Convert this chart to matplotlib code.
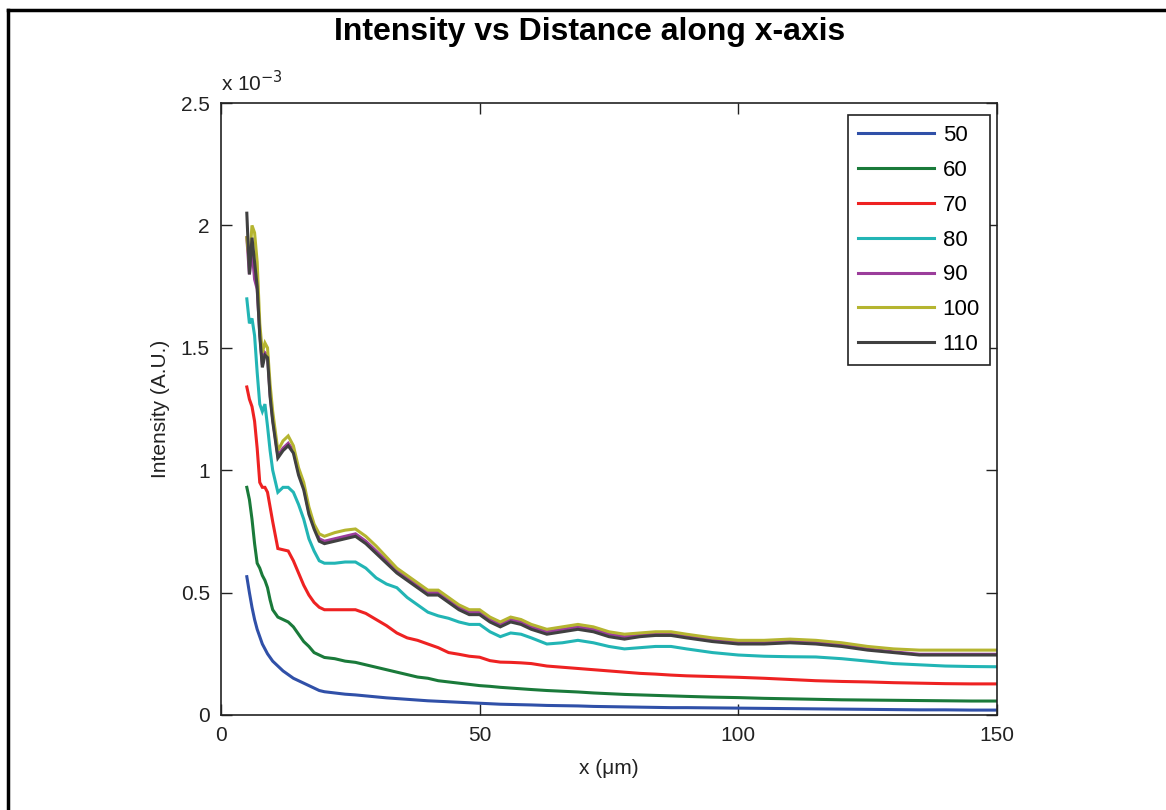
import matplotlib
matplotlib.use("Agg")
import matplotlib.pyplot as plt
from matplotlib.lines import Line2D

# x positions (micrometres)
x_um = [5, 5.5, 6, 6.5, 7, 7.5, 8, 8.5, 9, 9.5, 10, 11, 12, 13, 14, 15, 16, 17, 18, 19, 20,
        22, 24, 26, 28, 30, 32, 34, 36, 38, 40, 42, 44, 46, 48, 50, 52, 54, 56, 58, 60,
        63, 66, 69, 72, 75, 78, 81, 84, 87, 90, 95, 100, 105, 110, 115, 120, 125, 130,
        135, 140, 145, 150]

# intensities in units of 1e-3 (A.U.)
i50 = [0.565, 0.50, 0.44, 0.39, 0.35, 0.32, 0.29, 0.27, 0.25, 0.235, 0.22, 0.20, 0.18, 0.165,
       0.15, 0.14, 0.13, 0.12, 0.11, 0.10, 0.095, 0.09, 0.085, 0.082, 0.078, 0.074, 0.07,
       0.067, 0.064, 0.061, 0.058, 0.056, 0.054, 0.052, 0.05, 0.048, 0.046, 0.044, 0.043,
       0.042, 0.041, 0.039, 0.038, 0.037, 0.035, 0.034, 0.033, 0.032, 0.031, 0.03, 0.03,
       0.029, 0.028, 0.027, 0.026, 0.025, 0.024, 0.023, 0.022, 0.021, 0.021, 0.02, 0.02]
i60 = [0.93, 0.88, 0.80, 0.70, 0.62, 0.60, 0.57, 0.55, 0.52, 0.47, 0.43, 0.40, 0.39, 0.38,
       0.36, 0.33, 0.30, 0.28, 0.255, 0.245, 0.235, 0.23, 0.22, 0.215, 0.205, 0.195, 0.185,
       0.175, 0.165, 0.155, 0.15, 0.14, 0.135, 0.13, 0.125, 0.12, 0.117, 0.113, 0.11, 0.107,
       0.104, 0.10, 0.097, 0.094, 0.09, 0.087, 0.084, 0.082, 0.08, 0.078, 0.076, 0.073,
       0.071, 0.068, 0.066, 0.064, 0.062, 0.061, 0.06, 0.059, 0.058, 0.057, 0.057]
i70 = [1.34, 1.29, 1.26, 1.20, 1.09, 0.95, 0.93, 0.93, 0.91, 0.85, 0.79, 0.68, 0.675, 0.67,
       0.63, 0.58, 0.53, 0.49, 0.46, 0.44, 0.43, 0.43, 0.43, 0.43, 0.415, 0.39, 0.365, 0.335,
       0.315, 0.305, 0.29, 0.275, 0.255, 0.248, 0.24, 0.236, 0.222, 0.216, 0.215, 0.213,
       0.21, 0.20, 0.195, 0.19, 0.185, 0.18, 0.175, 0.17, 0.167, 0.163, 0.16, 0.157, 0.154,
       0.15, 0.145, 0.14, 0.137, 0.135, 0.132, 0.13, 0.128, 0.127, 0.127]
i80 = [1.70, 1.60, 1.62, 1.55, 1.40, 1.27, 1.24, 1.27, 1.18, 1.08, 1.00, 0.91, 0.93, 0.93,
       0.91, 0.86, 0.80, 0.72, 0.67, 0.63, 0.62, 0.62, 0.625, 0.625, 0.60, 0.56, 0.535, 0.52,
       0.48, 0.45, 0.42, 0.405, 0.395, 0.38, 0.37, 0.37, 0.34, 0.32, 0.335, 0.33, 0.315,
       0.29, 0.295, 0.305, 0.295, 0.28, 0.27, 0.275, 0.28, 0.28, 0.27, 0.255, 0.245, 0.24,
       0.238, 0.237, 0.23, 0.22, 0.21, 0.205, 0.20, 0.198, 0.197]
i90 = [1.95, 1.80, 1.90, 1.78, 1.74, 1.56, 1.43, 1.48, 1.47, 1.31, 1.21, 1.06, 1.09, 1.11,
       1.08, 0.99, 0.93, 0.83, 0.77, 0.72, 0.71, 0.72, 0.73, 0.74, 0.71, 0.67, 0.63, 0.59,
       0.56, 0.53, 0.50, 0.50, 0.47, 0.44, 0.42, 0.42, 0.39, 0.37, 0.39, 0.38, 0.36, 0.34,
       0.35, 0.36, 0.35, 0.33, 0.32, 0.328, 0.333, 0.333, 0.323, 0.308, 0.297, 0.297,
       0.302, 0.297, 0.287, 0.27, 0.258, 0.248, 0.248, 0.248, 0.248]
i100 = [1.95, 1.85, 2.00, 1.97, 1.85, 1.60, 1.48, 1.52, 1.50, 1.35, 1.24, 1.08, 1.12, 1.14,
        1.10, 1.01, 0.95, 0.85, 0.78, 0.74, 0.73, 0.745, 0.755, 0.76, 0.73, 0.69, 0.645,
        0.60, 0.57, 0.54, 0.51, 0.51, 0.48, 0.45, 0.43, 0.43, 0.40, 0.38, 0.40, 0.39, 0.37,
        0.35, 0.36, 0.37, 0.36, 0.34, 0.33, 0.335, 0.34, 0.34, 0.33, 0.315, 0.305, 0.305,
        0.31, 0.305, 0.295, 0.28, 0.27, 0.265, 0.265, 0.265, 0.265]
i110 = [2.05, 1.80, 1.95, 1.85, 1.75, 1.55, 1.42, 1.47, 1.46, 1.30, 1.20, 1.05, 1.08, 1.10,
        1.07, 0.98, 0.92, 0.82, 0.76, 0.71, 0.70, 0.71, 0.72, 0.73, 0.70, 0.66, 0.62, 0.58,
        0.55, 0.52, 0.49, 0.49, 0.46, 0.43, 0.41, 0.41, 0.38, 0.36, 0.38, 0.37, 0.35, 0.33,
        0.34, 0.35, 0.34, 0.32, 0.31, 0.32, 0.325, 0.325, 0.315, 0.30, 0.29, 0.29, 0.295,
        0.29, 0.28, 0.265, 0.255, 0.245, 0.245, 0.245, 0.245]

series = [i50, i60, i70, i80, i90, i100, i110]
labels = ["50", "60", "70", "80", "90", "100", "110"]
colors = ["#3050A8", "#1A7A3A", "#EE2222", "#22B5B5", "#9B3D9B", "#B5B530", "#404040"]

xticks = [0, 50, 100, 150]
yticks = [0, 0.5, 1, 1.5, 2, 2.5]
ytick_labels = ["0", "0.5", "1", "1.5", "2", "2.5"]

plt.rcParams['font.family'] = ['Liberation Sans', 'DejaVu Sans']

fig = plt.figure(figsize=(11.66, 8.10), dpi=100)
ax = fig.add_axes([0.1895, 0.1173, 0.6655, 0.7555])

for ys, lab, c in zip(series, labels, colors):
    ax.plot(x_um, ys, color=c, lw=2.2, label=lab, solid_joinstyle='miter')

ax.set_xlim(0, 150)
ax.set_ylim(0, 2.5)
ax.set_xticks(xticks)
ax.set_xticklabels([str(t) for t in xticks])
ax.set_yticks(yticks)
ax.set_yticklabels(ytick_labels)
ax.tick_params(direction='in', length=8, width=1, top=True, right=True,
               labelsize=15, colors='#222222', pad=8)
for s in ax.spines.values():
    s.set_linewidth(1.2)
    s.set_color('#222222')

ax.set_xlabel("x (\u03bcm)", fontsize=15, color='#222222', labelpad=10)
ax.set_ylabel("Intensity (A.U.)", fontsize=15, color='#222222', labelpad=8)
ax.text(0.0, 1.012, r"x 10$^{-3}$", transform=ax.transAxes, fontsize=15,
        color='#222222', ha='left', va='bottom')

fig.text(0.506, 0.960, "Intensity vs Distance along x-axis", fontsize=23,
         fontweight='bold', ha='center', va='center')

leg = ax.legend(loc='upper right', bbox_to_anchor=(0.991, 0.980), borderaxespad=0,
                fontsize=16, handlelength=3.4, fancybox=False, framealpha=1,
                edgecolor='#222222', labelspacing=0.62, borderpad=0.45,
                handletextpad=0.4)
leg.get_frame().set_linewidth(1.2)

# figure border (top and left)
fig.add_artist(Line2D([0.0069, 1.0], [0.9877, 0.9877], transform=fig.transFigure,
                      color='black', lw=2.5))
fig.add_artist(Line2D([0.0069, 0.0069], [0.0, 0.9877], transform=fig.transFigure,
                      color='black', lw=2.5))

fig.savefig("out.png", dpi=100)
